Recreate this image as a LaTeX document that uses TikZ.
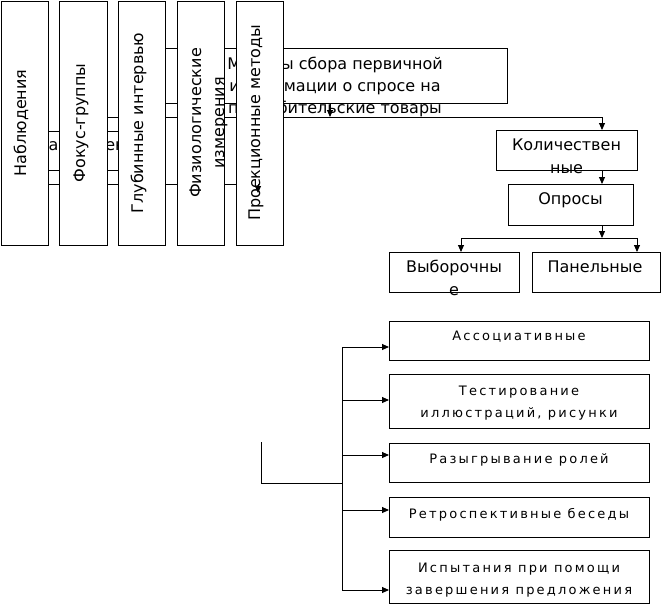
\documentclass[tikz,border=0pt]{standalone}
\usepackage{fontspec}
\newfontfamily\dvfont{DejaVu Sans}
\newfontfamily\dvsfont[LetterSpace=17]{DejaVu Sans}
\usetikzlibrary{arrows.meta}
\begin{document}
\begin{tikzpicture}[x=1pt,y=-1pt,
  box/.style={draw=black, line width=0.9pt, fill=white, inner sep=0pt, outer sep=0pt, anchor=north west},
  lbl/.style={inner sep=0pt, outer sep=0pt, align=center, anchor=base},
  big/.style={font=\dvfont\fontsize{16}{23}\selectfont},
  small/.style={font=\dvsfont\fontsize{13}{22}\selectfont},
  conn/.style={line width=0.9pt},
  arr/.style={line width=0.9pt, -{Triangle[length=7pt,width=6pt]}}]
\useasboundingbox (0,0) rectangle (661,605);
\fill[white] (0,0) rectangle (661,605);

% hidden layer: qualitative box and main box
\node[box, minimum width=130pt, minimum height=39pt] (kach) at (32,131) {};
\node[lbl, big] (kachtxt) at (98,150) {Качественные};
\node[box, minimum width=354pt, minimum height=55pt] (main) at (153,48) {};
\node[lbl, big, font=\dvfont\fontsize{16}{22}\selectfont] (maintxt) at (335,113) {Методы сбора первичной\\информации о спросе на\\потребительские товары};

\coordinate (busA) at (330,117);
\coordinate (kolIn) at (602,117);
\coordinate (busB) at (602,238);
\coordinate (bL) at (461,238);
\coordinate (bR) at (637,238);
\coordinate (busC) at (97,184);
\coordinate (cL) at (24,184);
\coordinate (cR) at (258,184);

\draw[arr] (main.south) -- (busA);
\draw[conn] (kach.north) -- (kach.north |- busA) -- (kolIn);
\draw[conn] (kach.south) -- (busC);
\draw[conn] (cL) -- (cR);

% quantitative branch
\node[box, minimum width=141pt, minimum height=40pt] (kol) at (496,130) {};
\node[lbl, big] (koltxt) at (566.5,173) {Количествен\\ные};
\node[box, minimum width=125pt, minimum height=41pt] (opr) at (508,184) {};
\node[lbl, big] (oprtxt) at (570.5,204) {Опросы};
\node[box, minimum width=130pt, minimum height=40pt] (vyb) at (389,252) {};
\node[lbl, big] (vybtxt) at (454,295) {Выборочны\\е};
\node[box, minimum width=128pt, minimum height=40pt] (pan) at (532,252) {};
\node[lbl, big] (pantxt) at (595,272) {Панельные};

\draw[arr] (kolIn) -- (kolIn |- kol.north);
\draw[arr] (kol.south -| kolIn) -- (opr.north -| kolIn);
\draw[arr] (opr.south -| kolIn) -- (busB);
\draw[conn] (bL) -- (bR);
\draw[arr] (bL) -- (bL |- vyb.north);
\draw[arr] (bR) -- (bR |- pan.north);

% projective methods group
\node[box, minimum width=260pt, minimum height=39pt] (a1) at (389,321) {};
\node[lbl, small] (a1t) at (519,340) {Ассоциативные};
\node[box, minimum width=260pt, minimum height=54pt] (a2) at (389,374) {};
\node[lbl, small] (a2t) at (519,417) {Тестирование\\иллюстраций, рисунки};
\node[box, minimum width=260pt, minimum height=39pt] (a3) at (389,443) {};
\node[lbl, small] (a3t) at (519,463) {Разыгрывание ролей};
\node[box, minimum width=260pt, minimum height=40pt] (a4) at (389,497) {};
\node[lbl, small] (a4t) at (519,518) {Ретроспективные беседы};
\node[box, minimum width=260pt, minimum height=53pt] (a5) at (389,550) {};
\node[lbl, small] (a5t) at (519,594) {Испытания при помощи\\завершения предложения};

\coordinate (brTop) at (261,442);
\coordinate (brCorner) at (261,483);
\coordinate (t1) at (342,347);
\coordinate (t2) at (342,400);
\coordinate (t3) at (342,455);
\coordinate (tm) at (342,483);
\coordinate (t4) at (342,510);
\coordinate (t5) at (342,590);
\draw[conn] (brTop) -- (brCorner) -- (tm);
\draw[conn] (t1) -- (t5);
\draw[arr] (t1) -- (t1 -| a1.west);
\draw[arr] (t2) -- (t2 -| a2.west);
\draw[arr] (t3) -- (t3 -| a3.west);
\draw[arr] (t4) -- (t4 -| a4.west);
\draw[arr] (t5) -- (t5 -| a5.west);

% vertical method boxes (on top)
\node[box, minimum width=47.5pt, minimum height=244pt] (v1) at (1,1) {};
\node[lbl, big, rotate=90] (v1t) at (26,123) {Наблюдения};
\node[box, minimum width=47.5pt, minimum height=244pt] (v2) at (59.5,1) {};
\node[lbl, big, rotate=90] (v2t) at (85,123) {Фокус-группы};
\node[box, minimum width=47.5pt, minimum height=244pt] (v3) at (118,1) {};
\node[lbl, big, rotate=90] (v3t) at (143,123) {Глубинные интервью};
\node[box, minimum width=47.5pt, minimum height=244pt] (v4) at (177,1) {};
\node[lbl, big, rotate=90] (v4t) at (224,123) {Физиологические\\измерения};
\node[box, minimum width=47pt, minimum height=244pt] (v5) at (236,1) {};
\node[lbl, big, rotate=90] (v5t) at (260,123) {Проекционные методы};

\draw[arr] (cR) -- ++(0,9);
\end{tikzpicture}
\end{document}
